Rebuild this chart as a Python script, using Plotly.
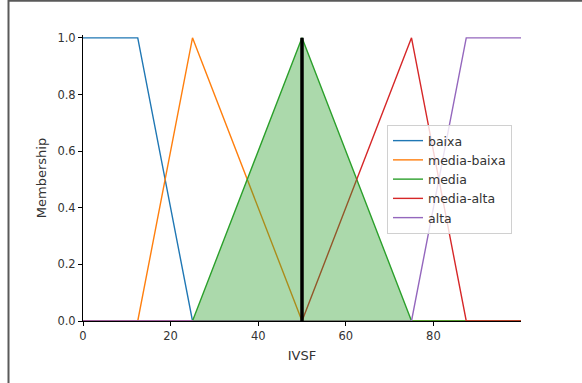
import plotly.graph_objects as go

# Membership function breakpoints (universe 0..100)
names = ["baixa", "media-baixa", "media", "media-alta", "alta"]
colors = ["#1f77b4", "#ff7f0e", "#2ca02c", "#d62728", "#9467bd"]
xs = [
    [0, 12.5, 25, 100],
    [0, 12.5, 25, 50, 100],
    [0, 25, 50, 75, 100],
    [0, 50, 75, 87.5, 100],
    [0, 75, 87.5, 100],
]
ys = [
    [1, 1, 0, 0],
    [0, 0, 1, 0, 0],
    [0, 0, 1, 0, 0],
    [0, 0, 1, 0, 0],
    [0, 0, 1, 1],
]
crisp_value = 50
crisp_membership = 1.0
x_ticks = [0, 20, 40, 60, 80]
y_ticks = [0.0, 0.2, 0.4, 0.6, 0.8, 1.0]

fig = go.Figure()
for n, c, x, y in zip(names, colors, xs, ys):
    fig.add_trace(go.Scatter(x=x, y=y, mode="lines", name=n,
                             line=dict(color=c, width=1.4)))

# filled activation area (media)
fig.add_trace(go.Scatter(x=xs[2], y=ys[2], mode="lines", fill="tozeroy",
                         fillcolor="rgba(44,160,44,0.4)", line=dict(width=0),
                         showlegend=False, hoverinfo="skip"))
# crisp value line
fig.add_trace(go.Scatter(x=[crisp_value, crisp_value], y=[0, crisp_membership],
                         mode="lines", line=dict(color="black", width=3.5),
                         showlegend=False))

W, H = 582, 383
ml, mr, mt, mb = 83, 61, 35, 62
pw, ph = W - ml - mr, H - mt - mb

def px(xp):
    return (xp - ml) / pw

def py(yp):
    return (H - mb - yp) / ph

fig.update_layout(
    width=W, height=H,
    margin=dict(l=ml, r=mr, t=mt, b=mb, pad=0),
    plot_bgcolor="white", paper_bgcolor="white",
    font=dict(family="DejaVu Sans", size=11.5, color="#333333"),
    xaxis=dict(range=[0, 100], tickvals=x_ticks, ticks="outside", ticklen=4,
               tickcolor="black", showline=True, linecolor="black", linewidth=1,
               showgrid=False, zeroline=False, tickfont=dict(size=11.5),
               title=dict(text="IVSF", standoff=9, font=dict(size=13))),
    yaxis=dict(range=[0, 1.01], tickvals=y_ticks, tickformat=".1f", ticks="outside",
               ticklen=4, tickcolor="black", showline=True, linecolor="black",
               linewidth=1, showgrid=False, zeroline=False, tickfont=dict(size=11.5),
               title=dict(text="Membership", standoff=7, font=dict(size=13))),
    legend=dict(x=px(387), y=py(125), xanchor="left", yanchor="top",
                bgcolor="rgba(255,255,255,0.8)", bordercolor="#d0d0d0",
                borderwidth=1, font=dict(size=12.5), itemwidth=30,
                tracegroupgap=0),
    shapes=[
        dict(type="line", xref="paper", yref="paper", x0=px(8.5), x1=px(8.5),
             y0=py(0), y1=py(H), line=dict(color="#5a5a5a", width=2)),
        dict(type="line", xref="paper", yref="paper", x0=px(8), x1=px(W),
             y0=py(0.8), y1=py(0.8), line=dict(color="#5a5a5a", width=2)),
    ],
)

fig.write_html("out.html")
